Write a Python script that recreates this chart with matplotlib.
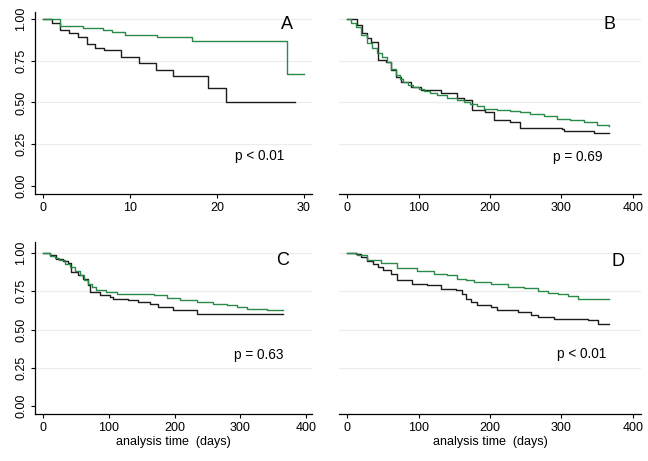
import matplotlib
matplotlib.use("Agg")
import matplotlib.pyplot as plt

plt.rcParams['font.family'] = ['Liberation Sans', 'DejaVu Sans']

# ---------------------------------------------------------
# Data (Kaplan-Meier step curves)
# ---------------------------------------------------------
# Panel A (time 0-30)
a_black_t = [0, 1, 2, 3, 4, 5, 6, 7, 9, 11, 13, 15, 19, 21, 29]
a_black_s = [1.0, 0.974, 0.934, 0.914, 0.89, 0.848, 0.824, 0.812, 0.77, 0.738,
             0.692, 0.658, 0.586, 0.502, 0.502]
a_green_t = [0, 2, 4.6, 6.9, 7.9, 9.4, 13.1, 17.1, 28, 30]
a_green_s = [1.0, 0.96, 0.946, 0.934, 0.92, 0.906, 0.894, 0.87, 0.672, 0.672]

# Panel B (days)
b_black_t = [0, 14, 21, 28, 33, 44, 54, 61, 68, 75, 89, 103, 131, 154, 163, 175,
             193, 205, 228, 242, 301, 303, 345, 366]
b_black_s = [1.0, 0.964, 0.914, 0.884, 0.864, 0.754, 0.744, 0.694, 0.654, 0.624,
             0.594, 0.574, 0.554, 0.524, 0.514, 0.454, 0.444, 0.394, 0.384, 0.35,
             0.344, 0.33, 0.32, 0.32]
b_green_t = [0, 6, 12, 20, 28, 35, 42, 49, 56, 62, 68, 74, 79, 86, 93, 100, 107,
             116, 126, 140, 154, 163, 172, 182, 191, 200, 210, 228, 242, 256, 275,
             294, 312, 331, 350, 366]
b_green_s = [1.0, 0.978, 0.954, 0.904, 0.854, 0.824, 0.794, 0.77, 0.744, 0.70,
             0.664, 0.642, 0.624, 0.606, 0.59, 0.58, 0.57, 0.557, 0.544, 0.529,
             0.514, 0.504, 0.494, 0.479, 0.464, 0.459, 0.454, 0.449, 0.444, 0.43,
             0.417, 0.404, 0.394, 0.384, 0.364, 0.358]

# Panel C (days)
c_black_t = [0, 10, 20, 30, 38, 43, 53, 61, 69, 71, 86, 102, 107, 129, 145, 162,
             175, 198, 234, 365]
c_black_s = [1.0, 0.985, 0.963, 0.948, 0.937, 0.876, 0.854, 0.832, 0.789, 0.745,
             0.723, 0.712, 0.70, 0.69, 0.68, 0.669, 0.647, 0.625, 0.60, 0.60]
c_green_t = [0, 10, 18, 25, 33, 41, 48, 56, 62, 69, 75, 81, 96, 112, 137, 168,
             188, 208, 234, 259, 279, 295, 310, 340, 365]
c_green_s = [1.0, 0.978, 0.965, 0.952, 0.93, 0.908, 0.88, 0.854, 0.826, 0.80,
             0.778, 0.756, 0.745, 0.734, 0.734, 0.728, 0.706, 0.69, 0.68, 0.669,
             0.658, 0.647, 0.636, 0.625, 0.625]

# Panel D (days)
d_black_t = [0, 12, 19, 28, 37, 44, 51, 61, 70, 91, 112, 131, 152, 161, 166, 173,
             182, 201, 210, 239, 257, 267, 290, 337, 351, 367]
d_black_s = [1.0, 0.996, 0.974, 0.948, 0.93, 0.909, 0.89, 0.865, 0.822, 0.80,
             0.789, 0.767, 0.757, 0.735, 0.70, 0.68, 0.659, 0.648, 0.626, 0.615,
             0.593, 0.583, 0.572, 0.561, 0.539, 0.539]
d_green_t = [0, 14, 28, 47, 70, 98, 122, 140, 154, 166, 178, 201, 225, 248, 267,
             281, 295, 309, 323, 342, 367]
d_green_s = [1.0, 0.985, 0.957, 0.935, 0.904, 0.883, 0.865, 0.854, 0.833, 0.822,
             0.811, 0.796, 0.778, 0.774, 0.752, 0.741, 0.73, 0.716, 0.702, 0.698,
             0.698]

letters = ['A', 'B', 'C', 'D']
p_texts = ['p < 0.01', 'p = 0.69', 'p = 0.63', 'p < 0.01']
y_ticks = [0.0, 0.25, 0.5, 0.75, 1.0]
y_ticklabels = ['0.00', '0.25', '0.50', '0.75', '1.00']

# annotation spots in axes fractions
letter_pos = [(0.91, 0.934), (0.897, 0.934), (0.895, 0.895), (0.924, 0.884)]
p_pos = [(0.812, 0.209), (0.791, 0.203), (0.809, 0.343), (0.805, 0.349)]

GREEN = '#2a8a48'
BLACK = '#1c1c1c'
GRID = '#ececec'

W, H = 648, 461
fig = plt.figure(figsize=(W / 100, H / 100), dpi=100)
fig.patch.set_facecolor('white')


def px_axes(left, top, right, bottom):
    return fig.add_axes([left / W, 1 - bottom / H, (right - left) / W, (bottom - top) / H])


axA = px_axes(35, 12, 312, 194)
axB = px_axes(339, 12, 641, 194)
axC = px_axes(35, 242, 312, 414)
axD = px_axes(339, 242, 641, 414)

panels = [
    (axA, a_black_t, a_black_s, a_green_t, a_green_s),
    (axB, b_black_t, b_black_s, b_green_t, b_green_s),
    (axC, c_black_t, c_black_s, c_green_t, c_green_s),
    (axD, d_black_t, d_black_s, d_green_t, d_green_s),
]

for i, (ax, bt, bs, gt, gs) in enumerate(panels):
    for y in y_ticks[1:]:
        ax.axhline(y, color=GRID, lw=0.8, zorder=0)
    ax.plot(gt, gs, drawstyle='steps-post', color=GREEN, lw=1.0, zorder=3)
    ax.plot(bt, bs, drawstyle='steps-post', color=BLACK, lw=1.0, zorder=2)

    ax.spines['top'].set_visible(False)
    ax.spines['right'].set_visible(False)
    ax.spines['bottom'].set_linewidth(0.9)
    ax.spines['left'].set_linewidth(0.9)
    ax.tick_params(axis='both', direction='out', length=3, width=0.8,
                   labelsize=9, pad=2.5)

    ax.set_yticks(y_ticks)
    if i in (0, 2):
        ax.set_yticklabels(y_ticklabels, rotation=90, va='center')
    else:
        ax.spines['left'].set_visible(False)
        ax.tick_params(axis='y', left=False, labelleft=False)

    ax.text(*letter_pos[i], letters[i], transform=ax.transAxes, fontsize=13,
            ha='center', va='center')
    ax.text(*p_pos[i], p_texts[i], transform=ax.transAxes, fontsize=9.8,
            ha='center', va='center')

axA.set_xlim(-0.92, 30.92)
axA.set_ylim(-0.048, 1.042)
axA.set_xticks([0, 10, 20, 30])

for ax in (axB, axD):
    ax.set_xlim(-11.2, 411.2)
    ax.set_xticks([0, 100, 200, 300, 400])
axB.set_ylim(-0.048, 1.042)

axC.set_xlim(-12.2, 409)
axC.set_xticks([0, 100, 200, 300, 400])
for ax in (axC, axD):
    ax.set_ylim(-0.052, 1.072)
    ax.set_xlabel('analysis time  (days)', fontsize=9, labelpad=1.5)

fig.savefig('out.png', dpi=100, facecolor='white')
